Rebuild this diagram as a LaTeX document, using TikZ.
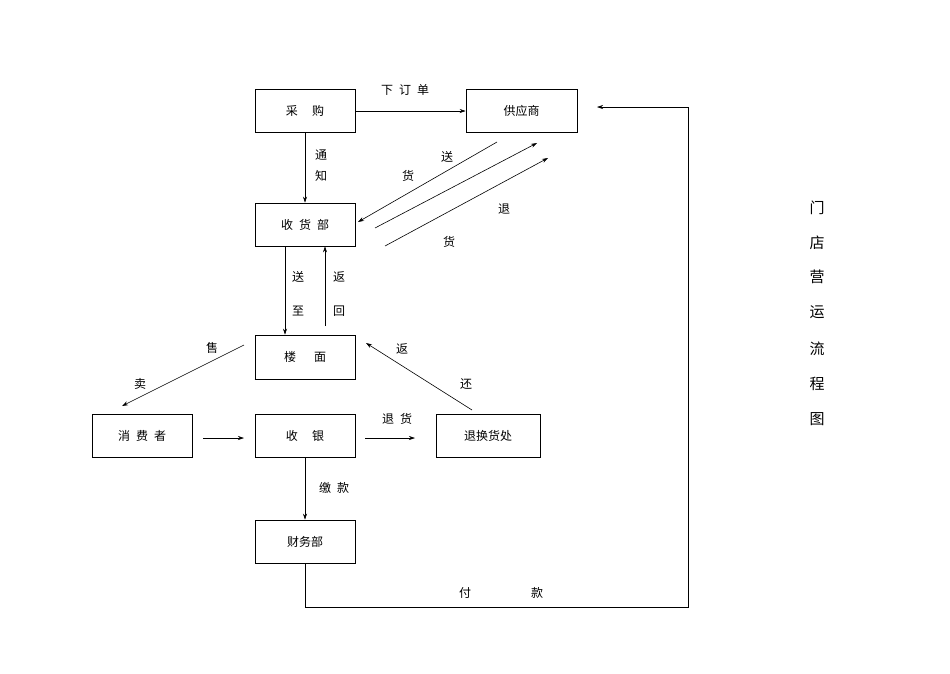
\documentclass[tikz,border=0pt]{standalone}
\usepackage{fontspec}
\setmainfont{Noto Sans CJK SC}
\usetikzlibrary{arrows.meta}
\begin{document}
\begin{tikzpicture}[x=1pt,y=-1pt,
  box/.style={draw,line width=0.6pt,minimum width=100pt,minimum height=43pt,inner sep=0pt,font=\fontsize{12}{14}\selectfont},
  lab/.style={font=\fontsize{12}{14}\selectfont,inner sep=0pt},
  conn/.style={line width=0.6pt,-{Stealth[length=6pt,width=4pt]}}]
\useasboundingbox (0,0) rectangle (950,673);
\node[box] (cg) at (305,111) {采\hspace{1.2em}购};
\node[box,minimum width=111pt] (gys) at (521.5,111) {供应商};
\node[box] (sh) at (305,224.5) {收\hspace{0.5em}货\hspace{0.5em}部};
\node[box,minimum height=44pt] (lm) at (305,357) {楼\hspace{1.5em}面};
\draw[line width=1.4pt] (lm.south west) -- (lm.south east);
\node[box] (xf) at (142,436) {消\hspace{0.5em}费\hspace{0.5em}者};
\node[box] (sy) at (305,436) {收\hspace{1.2em}银};
\node[box,minimum width=104pt] (th) at (488,436) {退换货处};
\node[box] (cw) at (305,541.5) {财务部};

\draw[conn] (cg) -- (gys);
\node[lab] (l1) at (405,90) {下\hspace{0.5em}订\hspace{0.5em}单};
\draw[conn] (cg) -- (sh);
\node[lab] (l2) at (321,155) {通};
\node[lab] (l3) at (321,176) {知};

\coordinate (a1) at (497,142); \coordinate (a2) at (358,222);
\draw[conn] (a1) -- (a2);
\node[lab] at (447,157) {送};
\node[lab] at (408,176) {货};
\coordinate (b1) at (375,228); \coordinate (b2) at (537,143);
\coordinate (c1) at (385,246); \coordinate (c2) at (548,158);
\draw[conn] (b1) -- (b2);
\draw[conn] (c1) -- (c2);
\node[lab] at (504,209) {退};
\node[lab] at (449,242) {货};

\draw[conn] (sh.south -| 285,0) -- (lm.north -| 285,0);
\node[lab] at (298,277) {送};
\node[lab] at (298,311) {至};
\draw[conn] (325,326) -- (sh.south -| 325,0);
\node[lab] at (339,277) {返};
\node[lab] at (339,311) {回};

\coordinate (s1) at (244,345); \coordinate (s2) at (122,406);
\draw[conn] (s1) -- (s2);
\node[lab] at (212,348) {售};
\node[lab] at (140,384) {卖};

\coordinate (r1) at (472,410); \coordinate (r2) at (366,343);
\draw[conn] (r1) -- (r2);
\node[lab] at (402,349) {返};
\node[lab] at (466,384) {还};

\coordinate (x1) at (203,438); \coordinate (x2) at (244,438);
\draw[conn] (x1) -- (x2);
\coordinate (y1) at (365,438); \coordinate (y2) at (415,438);
\draw[conn] (y1) -- (y2);
\node[lab] at (397,419) {退\hspace{0.5em}货};
\draw[conn] (sy) -- (cw);
\node[lab] at (334,488) {缴\hspace{0.5em}款};

\coordinate (p1) at (688,607); \coordinate (p2) at (597,107);
\draw[conn] (cw.south) |- (p1) |- (p2);
\node[lab] at (465,593) {付};
\node[lab] at (537,593) {款};

\foreach \t/\y in {门/208,店/243,营/277,运/312,流/349,程/384,图/419}
  \node[lab,font=\fontsize{15}{17}\selectfont] at (817,\y) {\t};
\end{tikzpicture}
\end{document}
